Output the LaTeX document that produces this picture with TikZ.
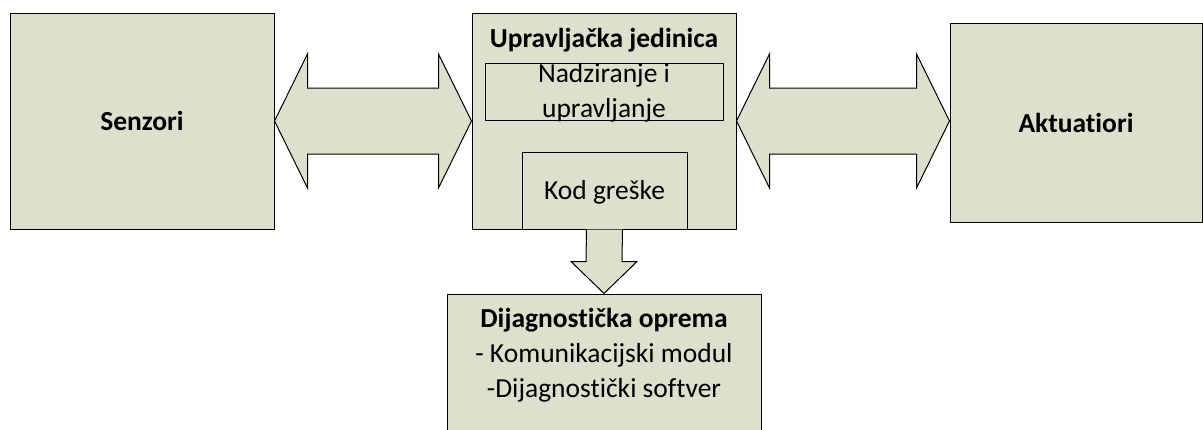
\documentclass[tikz,border=0pt]{standalone}
\usepackage{fontspec}
\setmainfont[Ligatures=NoCommon]{Carlito}
\usetikzlibrary{calc}
\definecolor{boxfill}{RGB}{221,224,204}
\tikzset{
  blk/.style={draw=black, fill=boxfill, line width=1pt, rectangle, inner sep=0pt},
  barrow/.style={draw=black, fill=boxfill, line width=1pt, line join=miter},
  txt/.style={font=\fontsize{27.5}{35}\selectfont, align=center, inner sep=0pt},
  btxt/.style={font=\fontsize{27.5}{35}\selectfont\bfseries, align=center, inner sep=0pt}
}
\begin{document}
\begin{tikzpicture}[x=1pt,y=-1pt]
\useasboundingbox (0,0) rectangle (1203,429);
\clip (0,0) rectangle (1203,429);
% main boxes
\node[blk, minimum width=264, minimum height=216] (senz) at (142,121) {};
\node[btxt] at (senz.center) {Senzori};
\node[blk, minimum width=264, minimum height=216] (ecu) at (604,121) {};
\node[btxt] (ecutitle) at (604,40) {Upravljačka jedinica};
\node[blk, minimum width=238, minimum height=57] (nad) at (604,91.5) {};
\node[txt] at (604,93) {Nadziranje i\\upravljanje};
\node[blk, minimum width=165, minimum height=77] (kod) at (604.5,190.5) {};
\node[txt] at (604.5,192) {Kod greške};
\node[blk, minimum width=252, minimum height=199] (akt) at (1076,122.5) {};
\node[btxt] at (akt.center) {Aktuatiori};
\node[blk, minimum width=314, minimum height=180] (diag) at (604,384) {};
\node[txt] (diagtext) at (604,355) {\textbf{Dijagnostička oprema}\\- Komunikacijski modul\\-Dijagnostički softver};
% left double arrow
\draw[barrow] (senz.east) -- ++(33,-67) -- ++(0,34) -- ($(ecu.west)+(-33,-33)$) -- ++(0,-34)
  -- (ecu.west) -- ++(-33,67) -- ++(0,-34) -- ($(senz.east)+(33,33)$) -- ++(0,34) -- cycle;
% right double arrow
\coordinate (aktin) at (akt.west |- ecu.east);
\draw[barrow] (ecu.east) -- ++(33,-67) -- ++(0,34) -- ($(aktin)+(-33,-33)$) -- ++(0,-34)
  -- (aktin) -- ++(-33,67) -- ++(0,-34) -- ($(ecu.east)+(33,33)$) -- ++(0,34) -- cycle;
% down arrow
\draw[barrow] ($(kod.south)+(-18,0)$) -- ($(diag.north)+(-18,-32)$) -- ($(diag.north)+(-33,-32)$)
  -- (diag.north) -- ($(diag.north)+(33,-32)$) -- ($(diag.north)+(18,-32)$) -- ($(kod.south)+(18,0)$);
\end{tikzpicture}
\end{document}
